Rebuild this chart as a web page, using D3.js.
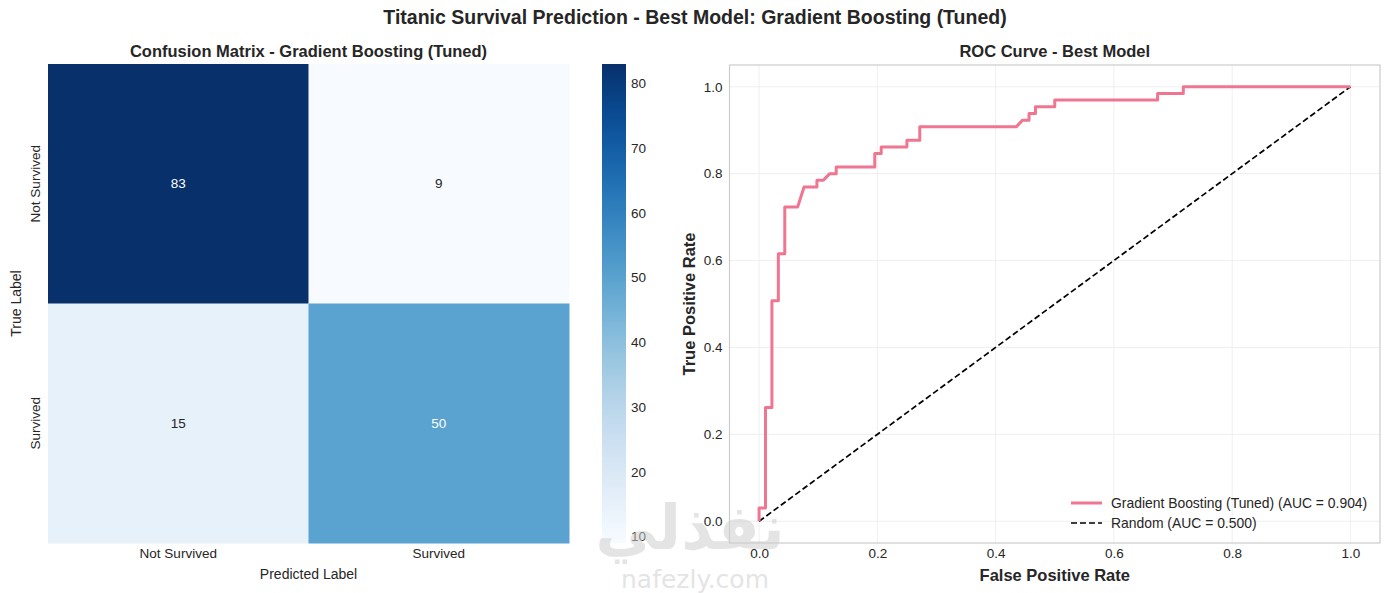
<!DOCTYPE html>
<html>
<head>
<meta charset="utf-8">
<script src="https://cdn.jsdelivr.net/npm/d3@7"></script>
<style>
body { margin: 0; background: #fff; }
text { font-family: "Liberation Sans", Arial, sans-serif; fill: #262626; }
</style>
</head>
<body>
<div id="chart"></div>
<script>
var width = 1390;
var height = 593;

// confusion matrix data
var classLabels = ['Not Survived', 'Survived'];
var matrixValues = [
	[83, 9],
	[15, 50]
];
var colorbarTicks = [10, 20, 30, 40, 50, 60, 70, 80];

// ROC curve data (false positives out of 92, true positives out of 65)
var rocFp = [0, 0, 1, 1, 2, 2, 3, 3, 4, 4, 6, 7, 9, 9, 10, 11, 12, 12, 18, 18, 19, 19, 23, 23, 25, 25, 40, 41, 42, 42, 43, 43, 46, 46, 62, 62, 66, 66, 92];
var rocTp = [0, 2, 2, 17, 17, 33, 33, 40, 40, 47, 47, 50, 50, 51, 51, 52, 52, 53, 53, 55, 55, 56, 56, 57, 57, 59, 59, 60, 60, 61, 61, 62, 62, 63, 63, 64, 64, 65, 65];
var negatives = 92;
var positives = 65;
var rocTicks = [0.0, 0.2, 0.4, 0.6, 0.8, 1.0];
var legendLabels = ['Gradient Boosting (Tuned) (AUC = 0.904)', 'Random (AUC = 0.500)'];

var tickFont = '13.5px';
var fontFamily = '"Liberation Sans", Arial, sans-serif';

var svg = d3.select('#chart')
	.append('svg')
	.attr('width', width)
	.attr('height', height);

svg.append('text')
	.attr('x', 695)
	.attr('y', 24)
	.attr('text-anchor', 'middle')
	.style('font-size', '19.5px')
	.style('font-weight', 'bold')
	.text('Titanic Survival Prediction - Best Model: Gradient Boosting (Tuned)');

// ---------- confusion matrix ----------
var hm = {left: 48, right: 569, top: 64, bottom: 543};

var xBand = d3.scaleBand().domain([0, 1]).range([hm.left, hm.right]);
var yBand = d3.scaleBand().domain([0, 1]).range([hm.top, hm.bottom]);
var color = d3.scaleSequential(d3.interpolateBlues).domain([9, 83]);

var luminance = function(c){
	var rgb = d3.rgb(c);
	var f = function(v){
		v = v / 255;
		return v <= 0.03928 ? v / 12.92 : Math.pow((v + 0.055) / 1.055, 2.4);
	};
	return 0.2126 * f(rgb.r) + 0.7152 * f(rgb.g) + 0.0722 * f(rgb.b);
};

var cells = [];
for(var j = 0; j < matrixValues.length; j++){
	for(var i = 0; i < matrixValues[j].length; i++){
		cells.push({row: j, col: i, value: matrixValues[j][i]});
	}
}

svg.selectAll('.cell')
	.data(cells)
	.enter()
	.append('rect')
	.attr('class', 'cell')
	.attr('x', function(d){ return xBand(d.col); })
	.attr('y', function(d){ return yBand(d.row); })
	.attr('width', xBand.bandwidth() + 0.5)
	.attr('height', yBand.bandwidth() + 0.5)
	.attr('fill', function(d){ return color(d.value); });

svg.selectAll('.cell-label')
	.data(cells)
	.enter()
	.append('text')
	.attr('x', function(d){ return xBand(d.col) + xBand.bandwidth() / 2; })
	.attr('y', function(d){ return yBand(d.row) + yBand.bandwidth() / 2; })
	.attr('dy', '0.35em')
	.attr('text-anchor', 'middle')
	.style('font-size', tickFont)
	.style('fill', function(d){ return luminance(color(d.value)) > 0.408 ? '#262626' : '#ffffff'; })
	.text(function(d){ return d.value; });

var hmX = svg.append('g')
	.attr('transform', 'translate(0,' + hm.bottom + ')')
	.call(d3.axisBottom(xBand).tickSize(0).tickPadding(5).tickFormat(function(d){ return classLabels[d]; }));
hmX.select('.domain').remove();
hmX.selectAll('text').style('font-size', tickFont).style('fill', '#262626').style('font-family', fontFamily);

var hmY = svg.append('g')
	.attr('transform', 'translate(' + hm.left + ',0)')
	.call(d3.axisLeft(yBand).tickSize(0).tickFormat(function(d){ return classLabels[d]; }));
hmY.select('.domain').remove();
hmY.selectAll('text')
	.style('font-size', tickFont)
	.style('fill', '#262626')
	.style('font-family', fontFamily)
	.attr('text-anchor', 'middle')
	.attr('x', 0)
	.attr('dy', 0)
	.attr('transform', 'translate(-8,0) rotate(-90)');

svg.append('text')
	.attr('x', (hm.left + hm.right) / 2)
	.attr('y', 579)
	.attr('text-anchor', 'middle')
	.style('font-size', '14px')
	.text('Predicted Label');

svg.append('text')
	.attr('transform', 'translate(21,' + (hm.top + hm.bottom) / 2 + ') rotate(-90)')
	.attr('text-anchor', 'middle')
	.style('font-size', '14px')
	.text('True Label');

svg.append('text')
	.attr('x', (hm.left + hm.right) / 2)
	.attr('y', 57)
	.attr('text-anchor', 'middle')
	.style('font-size', '16.5px')
	.style('font-weight', 'bold')
	.text('Confusion Matrix - Gradient Boosting (Tuned)');

// colorbar
var cb = {left: 602, width: 24};
var cbScale = d3.scaleLinear().domain([9, 83]).range([hm.bottom, hm.top]);

var grad = svg.append('defs')
	.append('linearGradient')
	.attr('id', 'cbGrad')
	.attr('x1', 0).attr('y1', 1)
	.attr('x2', 0).attr('y2', 0);
d3.range(0, 1.001, 0.05).forEach(function(t){
	grad.append('stop')
		.attr('offset', t)
		.attr('stop-color', color(9 + t * 74));
});

svg.append('rect')
	.attr('x', cb.left)
	.attr('y', hm.top)
	.attr('width', cb.width)
	.attr('height', hm.bottom - hm.top)
	.attr('fill', 'url(#cbGrad)');

var cbAxis = svg.append('g')
	.attr('transform', 'translate(' + (cb.left + cb.width) + ',0)')
	.call(d3.axisRight(cbScale).tickValues(colorbarTicks).tickSize(0).tickPadding(5));
cbAxis.select('.domain').remove();
cbAxis.selectAll('text').style('font-size', tickFont).style('fill', '#262626').style('font-family', fontFamily);

// ---------- ROC curve ----------
var roc = {left: 729.5, right: 1380, top: 65, bottom: 543};
var x = d3.scaleLinear().domain([-0.05, 1.05]).range([roc.left, roc.right]);
var y = d3.scaleLinear().domain([-0.05, 1.05]).range([roc.bottom, roc.top]);

var grid = svg.append('g');
rocTicks.forEach(function(t){
	grid.append('line')
		.attr('x1', x(t)).attr('x2', x(t))
		.attr('y1', roc.top).attr('y2', roc.bottom)
		.attr('stroke', '#ebebeb').attr('stroke-width', 0.8);
	grid.append('line')
		.attr('x1', roc.left).attr('x2', roc.right)
		.attr('y1', y(t)).attr('y2', y(t))
		.attr('stroke', '#ebebeb').attr('stroke-width', 0.8);
});

svg.append('rect')
	.attr('x', roc.left)
	.attr('y', roc.top)
	.attr('width', roc.right - roc.left)
	.attr('height', roc.bottom - roc.top)
	.attr('fill', 'none')
	.attr('stroke', '#cccccc')
	.attr('stroke-width', 1.2);

var rocX = svg.append('g')
	.attr('transform', 'translate(0,' + roc.bottom + ')')
	.call(d3.axisBottom(x).tickValues(rocTicks).tickSize(0).tickPadding(5).tickFormat(d3.format('.1f')));
rocX.select('.domain').remove();
rocX.selectAll('text').style('font-size', tickFont).style('fill', '#262626').style('font-family', fontFamily);

var rocY = svg.append('g')
	.attr('transform', 'translate(' + roc.left + ',0)')
	.call(d3.axisLeft(y).tickValues(rocTicks).tickSize(0).tickPadding(7).tickFormat(d3.format('.1f')));
rocY.select('.domain').remove();
rocY.selectAll('text').style('font-size', tickFont).style('fill', '#262626').style('font-family', fontFamily);

var rocPoints = rocFp.map(function(fp, k){
	return {fpr: fp / negatives, tpr: rocTp[k] / positives};
});

var line = d3.line()
	.x(function(d){ return x(d.fpr); })
	.y(function(d){ return y(d.tpr); });

svg.append('path')
	.datum([{fpr: 0, tpr: 0}, {fpr: 1, tpr: 1}])
	.attr('d', line)
	.attr('fill', 'none')
	.attr('stroke', '#000')
	.attr('stroke-width', 1.7)
	.attr('stroke-dasharray', '6,3');

svg.append('path')
	.datum(rocPoints)
	.attr('d', line)
	.attr('fill', 'none')
	.attr('stroke', '#f07590')
	.attr('stroke-width', 3)
	.attr('stroke-linejoin', 'round');

svg.append('text')
	.attr('x', (roc.left + roc.right) / 2)
	.attr('y', 57)
	.attr('text-anchor', 'middle')
	.style('font-size', '16.5px')
	.style('font-weight', 'bold')
	.text('ROC Curve - Best Model');

svg.append('text')
	.attr('x', (roc.left + roc.right) / 2)
	.attr('y', 581)
	.attr('text-anchor', 'middle')
	.style('font-size', '16.5px')
	.style('font-weight', 'bold')
	.text('False Positive Rate');

svg.append('text')
	.attr('transform', 'translate(695,' + (roc.top + roc.bottom) / 2 + ') rotate(-90)')
	.attr('text-anchor', 'middle')
	.style('font-size', '16.5px')
	.style('font-weight', 'bold')
	.text('True Positive Rate');

// legend
var legendStyles = [
	{stroke: '#f07590', width: 3, dash: null},
	{stroke: '#000', width: 1.7, dash: '6,3'}
];
legendLabels.forEach(function(label, k){
	var ly = 503 + k * 20;
	svg.append('line')
		.attr('x1', 1071).attr('x2', 1102)
		.attr('y1', ly).attr('y2', ly)
		.attr('stroke', legendStyles[k].stroke)
		.attr('stroke-width', legendStyles[k].width)
		.attr('stroke-dasharray', legendStyles[k].dash);
	svg.append('text')
		.attr('x', 1111)
		.attr('y', ly)
		.attr('dy', '0.35em')
		.style('font-size', '13.9px')
		.text(label);
});

// watermark
var wm = svg.append('g').style('opacity', 0.55);
wm.append('text')
	.attr('x', 690)
	.attr('y', 549)
	.attr('text-anchor', 'middle')
	.style('font-family', '"DejaVu Sans", sans-serif')
	.style('font-size', '62px')
	.style('font-weight', 'bold')
	.style('fill', '#cfcfcf')
	.text('نفذلي');
wm.append('text')
	.attr('x', 695)
	.attr('y', 588)
	.attr('text-anchor', 'middle')
	.style('font-family', '"DejaVu Sans", sans-serif')
	.style('font-size', '25px')
	.style('fill', '#cfcfcf')
	.text('nafezly.com');
</script>
</body>
</html>
